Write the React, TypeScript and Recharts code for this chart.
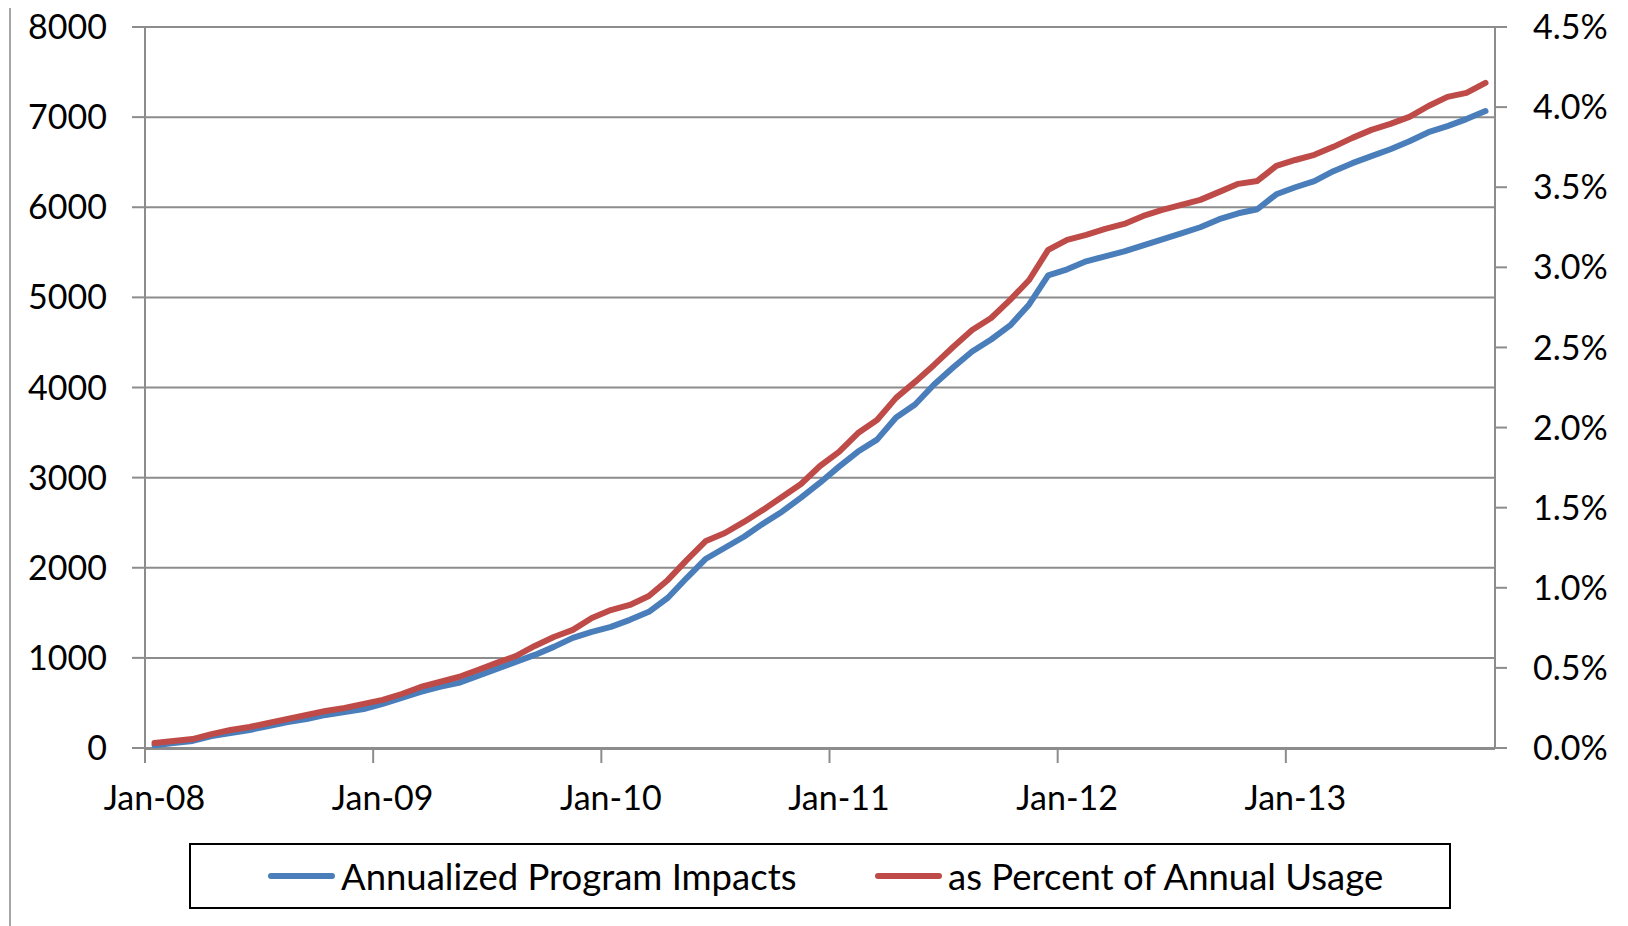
import React from 'react';
import { LineChart, Line, XAxis, YAxis, CartesianGrid, Legend } from 'recharts';

// 71 monthly categories, Jan-08 .. Nov-13
const MONTH_NAMES = ['Jan', 'Feb', 'Mar', 'Apr', 'May', 'Jun', 'Jul', 'Aug', 'Sep', 'Oct', 'Nov', 'Dec'];
const months: string[] = Array.from({ length: 71 }, (_, i) =>
  `${MONTH_NAMES[i % 12]}-${String(8 + Math.floor(i / 12)).padStart(2, '0')}`
);

// Annualized Program Impacts (left axis)
const impacts = [
  30, 56, 78, 133, 167, 200, 244, 289, 322, 367, 400, 433,
  489, 556, 622, 678, 722, 800, 878, 956, 1033, 1122, 1222, 1289,
  1344, 1422, 1511, 1667, 1889, 2100, 2222, 2344, 2489, 2622, 2778, 2944,
  3122, 3289, 3422, 3667, 3811, 4033, 4222, 4400, 4533, 4689, 4922, 5244,
  5311, 5400, 5456, 5511, 5578, 5644, 5711, 5778, 5867, 5933, 5978, 6144,
  6222, 6289, 6400, 6489, 6567, 6644, 6733, 6833, 6900, 6978, 7067,
];

// as Percent of Annual Usage (right axis, %)
const percentUsage = [
  0.031, 0.044, 0.056, 0.087, 0.112, 0.131, 0.156, 0.181, 0.206, 0.231, 0.25, 0.275,
  0.3, 0.337, 0.381, 0.412, 0.443, 0.487, 0.531, 0.574, 0.637, 0.693, 0.737, 0.811,
  0.861, 0.893, 0.949, 1.049, 1.174, 1.292, 1.342, 1.411, 1.486, 1.567, 1.648, 1.76,
  1.848, 1.966, 2.047, 2.185, 2.285, 2.391, 2.503, 2.609, 2.684, 2.797, 2.921, 3.109,
  3.171, 3.202, 3.24, 3.271, 3.321, 3.358, 3.39, 3.421, 3.471, 3.521, 3.539, 3.633,
  3.67, 3.702, 3.752, 3.808, 3.858, 3.895, 3.939, 4.007, 4.064, 4.089, 4.151,
];

const xTickLabels = ['Jan-08', 'Jan-09', 'Jan-10', 'Jan-11', 'Jan-12', 'Jan-13'];
const leftTicks = [0, 1000, 2000, 3000, 4000, 5000, 6000, 7000, 8000];
const rightTicks = [0, 0.5, 1, 1.5, 2, 2.5, 3, 3.5, 4, 4.5];

const data = months.map((m, i) => ({
  month: m,
  pos: i + 0.5,
  impacts: impacts[i],
  percent: percentUsage[i],
}));

const boundaryTicks = xTickLabels.map((l) => months.indexOf(l));
const labelTicks = xTickLabels.map((l) => months.indexOf(l) + 0.5);

const FONT = 'Lato, Carlito, Calibri, sans-serif';
const AXIS_GRAY = '#8c8c8c';
const BLUE = '#4a7ebb';
const RED = '#be4b48';
const tickStyle = { fill: '#000', fontSize: 34, fontFamily: FONT };

const renderLegend = (props: any) => {
  const { payload } = props;
  const lefts = [79, 686];
  return (
    <div
      style={{
        position: 'relative',
        width: 1262,
        height: 66,
        boxSizing: 'border-box',
        border: '2px solid #000',
        fontFamily: FONT,
        fontSize: 36.5,
        color: '#000',
        background: '#fff',
      }}
    >
      {(payload || []).map((entry: any, idx: number) => (
        <div
          key={entry.value}
          style={{
            position: 'absolute',
            left: lefts[idx] - 2,
            top: 0,
            height: 62,
            display: 'flex',
            alignItems: 'center',
            whiteSpace: 'nowrap',
          }}
        >
          <svg width={67} height={10} style={{ marginRight: 6 }}>
            <line x1={3} y1={5} x2={64} y2={5} stroke={entry.color} strokeWidth={6} strokeLinecap="round" />
          </svg>
          <span>{entry.value}</span>
        </div>
      ))}
    </div>
  );
};

export default function App() {
  return (
    <div style={{ position: 'relative', left: -8, top: -8, width: 1628, height: 926, background: '#fff' }}>
      <div
        style={{
          position: 'absolute',
          left: 9,
          top: 0,
          width: 2,
          height: 926,
          background: '#a6a6a6',
        }}
      />
      <LineChart
        width={1628}
        height={926}
        data={data}
        margin={{ top: 27, right: 0, bottom: 176, left: 0 }}
        style={{ overflow: 'visible' }}
      >
        <CartesianGrid yAxisId="left" xAxisId="ticks" vertical={false} stroke={AXIS_GRAY} strokeWidth={2} />
        <XAxis
          xAxisId="ticks"
          dataKey="pos"
          type="number"
          domain={[0, 71]}
          ticks={boundaryTicks}
          tickFormatter={() => ''}
          tickSize={14}
          height={1}
          interval={0}
          axisLine={{ stroke: AXIS_GRAY, strokeWidth: 2 }}
          tickLine={{ stroke: AXIS_GRAY, strokeWidth: 2 }}
        />
        <XAxis
          xAxisId="labels"
          dataKey="pos"
          type="number"
          domain={[0, 71]}
          ticks={labelTicks}
          tickFormatter={(v: number) => months[Math.floor(v)]}
          tick={tickStyle}
          tickSize={0}
          tickMargin={38}
          height={1}
          axisLine={false}
          tickLine={false}
          interval={0}
        />
        <YAxis
          yAxisId="left"
          orientation="left"
          width={145}
          domain={[0, 8000]}
          ticks={leftTicks}
          interval={0}
          tick={tickStyle}
          tickSize={13}
          tickMargin={25}
          axisLine={{ stroke: AXIS_GRAY, strokeWidth: 2 }}
          tickLine={{ stroke: AXIS_GRAY, strokeWidth: 2 }}
        />
        <YAxis
          yAxisId="right"
          orientation="right"
          width={133}
          domain={[0, 4.5]}
          ticks={rightTicks}
          interval={0}
          tickFormatter={(v: number) => `${v.toFixed(1)}%`}
          tick={{ ...tickStyle, textAnchor: 'start' }}
          tickSize={12}
          tickMargin={26}
          axisLine={{ stroke: AXIS_GRAY, strokeWidth: 2 }}
          tickLine={{ stroke: AXIS_GRAY, strokeWidth: 2 }}
        />
        <Legend
          layout="horizontal"
          verticalAlign="middle"
          align="center"
          content={renderLegend}
          wrapperStyle={{ position: 'absolute', left: 189, top: 843, width: 1262, height: 66 }}
        />
        <Line
          xAxisId="ticks"
          yAxisId="left"
          type="linear"
          dataKey="impacts"
          name="Annualized Program Impacts"
          stroke={BLUE}
          strokeWidth={6}
          strokeLinejoin="round"
          strokeLinecap="round"
          dot={false}
          activeDot={false}
          isAnimationActive={false}
        />
        <Line
          xAxisId="ticks"
          yAxisId="right"
          type="linear"
          dataKey="percent"
          name="as Percent of Annual Usage"
          stroke={RED}
          strokeWidth={6}
          strokeLinejoin="round"
          strokeLinecap="round"
          dot={false}
          activeDot={false}
          isAnimationActive={false}
        />
      </LineChart>
    </div>
  );
}
